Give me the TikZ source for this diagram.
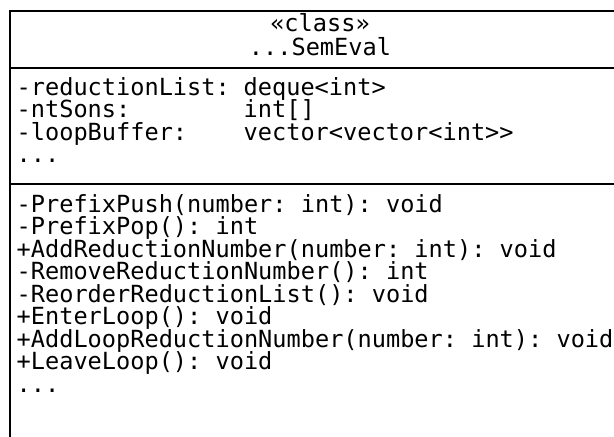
\documentclass[tikz,border=0pt]{standalone}
\usepackage{fontspec}
\setmonofont{DejaVu Sans Mono}
\usetikzlibrary{positioning}
\newcommand{\umlfont}{\ttfamily\fontsize{23.6}{22.5}\selectfont}

\begin{document}
\begin{tikzpicture}[x=1pt, y=-1pt, line width=1.4pt,
    member/.style={anchor=base west, inner sep=0pt, font=\umlfont},
    title/.style={anchor=base, inner sep=0pt, font=\umlfont}]
    \useasboundingbox (0,0) rectangle (614,437);
    \clip (0,0) rectangle (614,437);

    % Class box (runs past the right and bottom edges)
    \draw (640,11) -- (10,11) -- (10,460);
    \draw (10,68) -- (640,68);
    \draw (10,184) -- (640,184);

    % Header
    \node[title] (stereo) at (320,31) {«class»};
    \node[title] (cname) at (320,55) {...SemEval};

    % Attributes (types in one column)
    \node[member] (redList) at (16,95) {-reductionList:};
    \node[member] (redType) at (243,95) {deque<int>};
    \node[member] (sons) at (16,117.5) {-ntSons:};
    \node[member] (sonsType) at (243,117.5) {int[]};
    \node[member] (loopBuf) at (16,140) {-loopBuffer:};
    \node[member] (loopType) at (243,140) {vector<vector<int>>};
    \node[member] (attrMore) at (16,162.5) {...};

    % Operations
    \node[member] (push) at (16,212) {-PrefixPush(number: int): void};
    \node[member] (pop) at (16,234.5) {-PrefixPop(): int};
    \node[member] (addRed) at (16,257) {+AddReductionNumber(number: int): void};
    \node[member] (remRed) at (16,279.5) {-RemoveReductionNumber(): int};
    \node[member] (reorder) at (16,302) {-ReorderReductionList(): void};
    \node[member] (enter) at (16,324.5) {+EnterLoop(): void};
    \node[member] (addLoop) at (16,347) {+AddLoopReductionNumber(number: int): void};
    \node[member] (leave) at (16,369.5) {+LeaveLoop(): void};
    \node[member] (opMore) at (16,392) {...};
\end{tikzpicture}
\end{document}
